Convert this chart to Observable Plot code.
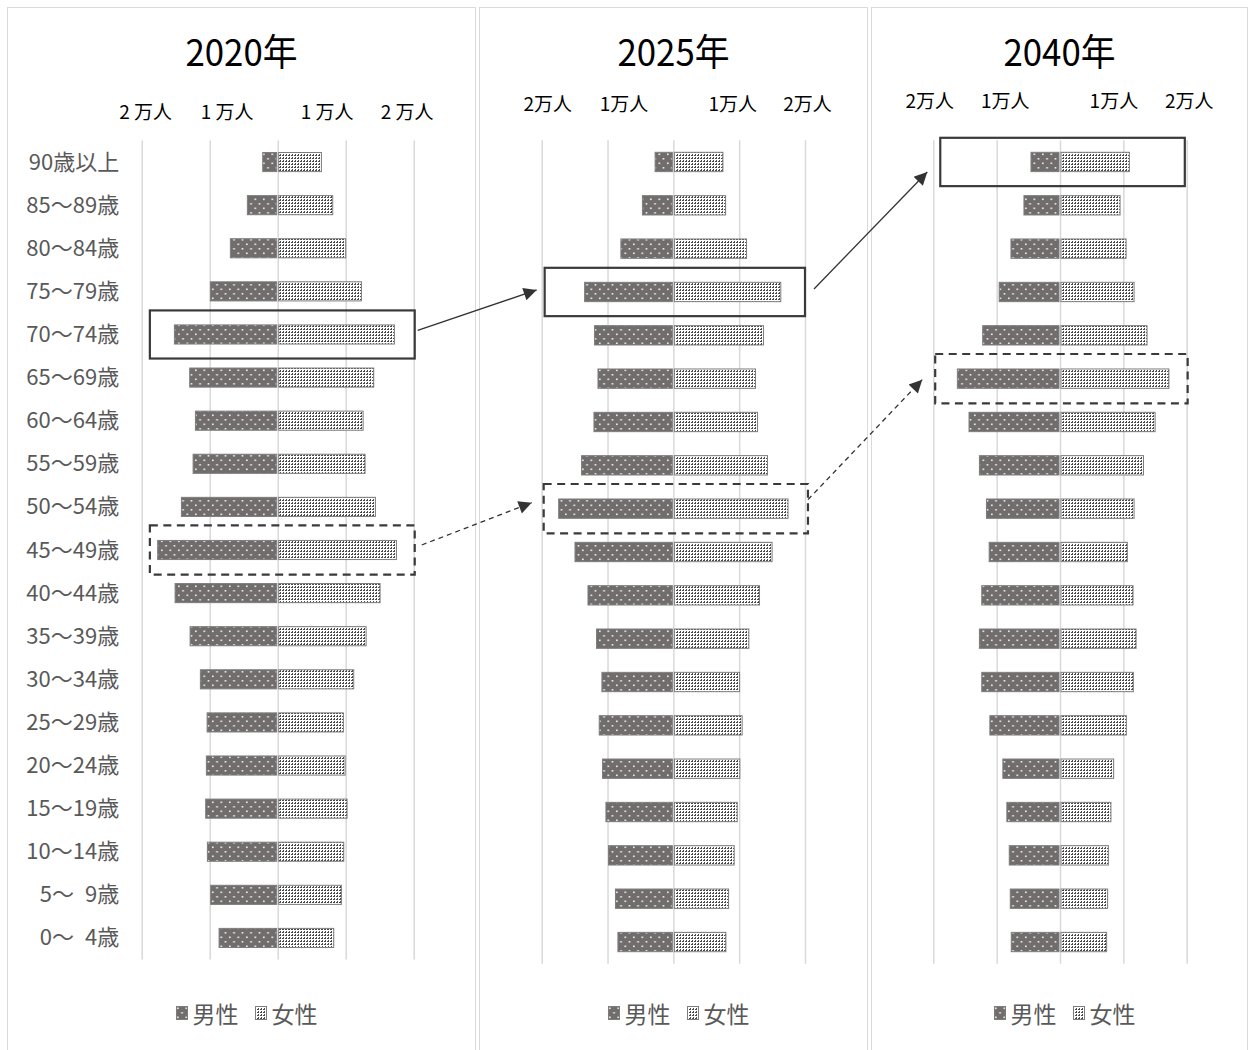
<!DOCTYPE html>
<html><head><meta charset="utf-8">
<script src="https://cdn.jsdelivr.net/npm/d3@7"></script>
<script src="https://cdn.jsdelivr.net/npm/@observablehq/plot@0.6"></script>
<style>
body{margin:0;background:#fff}
#root{position:relative;width:1250px;height:1050px;overflow:hidden;background:#fff}
.frame{position:absolute;top:7px;height:1080px;border:1.5px solid #dadada;box-sizing:border-box}
.title{position:absolute;top:32px;text-align:center;font-size:37px;line-height:1;color:#000;transform:scaleX(0.94)}
.legend{position:absolute;top:1001px;display:flex;justify-content:center;align-items:center;font-size:23px;line-height:24px;color:#595959}
.legend svg{margin-right:5px}
.legend .item{display:flex;align-items:center;margin:0 8px}
.plotbox{position:absolute}
.plotbox svg{max-width:none !important;overflow:visible}
svg text{white-space:pre}
</style></head><body><div id="root"></div>
<script>
const FONT = '"Liberation Sans Narrow","Arial Narrow","Noto Sans CJK JP",sans-serif';

// ---- data ----
const ages = ["90歳以上","85～89歳","80～84歳","75～79歳","70～74歳","65～69歳","60～64歳","55～59歳","50～54歳","45～49歳","40～44歳","35～39歳","30～34歳","25～29歳","20～24歳","15～19歳","10～14歳","5～\u20029歳","0～\u20024歳"];
const years = ["2020年","2025年","2040年"];
const male2020   = [2200,4460,6960,9900,15190,12940,12100,12440,14160,17650,15090,12880,11370,10380,10490,10590,10340,9850,8620];
const female2020 = [6430,8090,10000,12310,17160,14120,12560,12850,14370,17460,15060,13000,11180,9660,9910,10200,9710,9370,8240];
const male2025   = [2770,4700,7970,13480,11970,11450,12060,13940,17420,14940,12970,11670,10850,11260,10760,10240,9850,8790,8420];
const female2025 = [7530,7940,11120,16320,13700,12480,12790,14300,17420,15000,13090,11470,10060,10450,10100,9700,9240,8390,7980];
const male2040   = [4580,5690,7740,9600,12200,16200,14360,12720,11610,11180,12350,12720,12350,11070,9020,8390,8010,7850,7690];
const female2040 = [10950,9480,10430,11690,13740,17190,15010,13180,11690,10630,11530,12010,11580,10470,8470,8040,7630,7520,7360];
const tickValues = [-20000,-10000,10000,20000];
const tickLabels2020 = ["2 万人","1 万人","1 万人","2 万人"];
const tickLabelsOther = ["2万人","1万人","1万人","2万人"];
const gridValues = [-20000,-10000,0,10000,20000];
const legendLabels = ["男性","女性"];
// highlight boxes (x1/x2 in persons)
const boxes = [
  {year:"2020年", age:"70～74歳", x1:-18800, x2:20150, dashed:false},
  {year:"2020年", age:"45～49歳", x1:-18800, x2:20150, dashed:true},
  {year:"2025年", age:"75～79歳", x1:-19550, x2:20000, dashed:false},
  {year:"2025年", age:"50～54歳", x1:-19700, x2:20450, dashed:true},
  {year:"2040年", age:"90歳以上", x1:-18900, x2:19700, dashed:false},
  {year:"2040年", age:"65～69歳", x1:-19700, x2:20150, dashed:true}
];
// arrows: from box index -> to box index
const arrows = [[0,2],[1,3],[2,4],[3,5]];

// ---- styling / layout ----
const T = 80;
const layout = [
  {left:7,   width:469, mL:134.7, mR:62.3, mT:60.5, mB:15.5, labelDy:-28.5, labelDx:[3.5,17,-19,-7]},
  {left:479, width:389, mL:62.7,  mR:63,   mT:60.3, mB:11.3, labelDy:-35.5, labelDx:[5.5,16,-7,2]},
  {left:871, width:377, mL:62.3,  mR:61.3, mT:60.3, mB:11.3, labelDy:-38.5, labelDx:[-4,8,-10,2]}
];
const arrowNudge = [[3,-4,-8,-2],[7,-5,-12,-6],[9,-3,-13,10],[0,-9,-13,1]];
const series = [[male2020,female2020],[male2025,female2025],[male2040,female2040]];

const root = document.getElementById("root");
root.style.fontFamily = FONT;

// pattern defs
const defs = document.createElementNS("http://www.w3.org/2000/svg","svg");
defs.setAttribute("width",0); defs.setAttribute("height",0);
defs.style.position="absolute";
defs.innerHTML = `<defs>
<pattern id="pm" patternUnits="userSpaceOnUse" width="8.5" height="9">
  <rect width="8.5" height="9" fill="#716d6d"/>
  <rect x="1" y="1.5" width="1.6" height="1.6" fill="#f2f2f2"/>
  <rect x="5.25" y="6" width="1.6" height="1.6" fill="#f2f2f2"/>
</pattern>
<pattern id="pf" patternUnits="userSpaceOnUse" width="3" height="3">
  <rect width="3" height="3" fill="#ffffff"/>
  <rect x="0" y="0" width="1" height="1" fill="#4a4a4a"/>
  <rect x="0" y="2" width="1" height="1" fill="#4a4a4a"/>
  <rect x="2" y="0" width="1" height="1" fill="#4a4a4a"/>
</pattern>
<marker id="ah" viewBox="0 0 10 10" refX="10" refY="5" markerWidth="17" markerHeight="13" markerUnits="userSpaceOnUse" orient="auto">
  <path d="M0,0L10,5L0,10z" fill="#333"/>
</marker>
</defs>`;
root.appendChild(defs);

const plots = [];
years.forEach((yr, p) => {
  const L = layout[p];
  const fr = document.createElement("div");
  fr.className = "frame"; fr.style.left = L.left + "px"; fr.style.width = L.width + "px";
  root.appendChild(fr);

  const title = document.createElement("div");
  title.className = "title"; title.style.left = L.left + "px"; title.style.width = L.width + "px";
  title.textContent = yr;
  root.appendChild(title);

  const rows = ages.map((a, i) => ({age: a, male: series[p][0][i], female: series[p][1][i]}));
  const labels = p === 0 ? tickLabels2020 : tickLabelsOther;
  const myBoxes = boxes.filter(b => b.year === yr);

  const marks = [
    Plot.ruleX(gridValues, {stroke: "#d9d9d9", strokeWidth: 1.5}),
    Plot.barX(rows, {y: "age", x1: 0, x2: d => -d.male, fill: "url(#pm)", stroke: "#7d7d7d", strokeWidth: 1, insetTop: 12, insetBottom: 12, insetRight: 1}),
    Plot.barX(rows, {y: "age", x1: 0, x2: "female", fill: "url(#pf)", stroke: "#7d7d7d", strokeWidth: 1, insetTop: 12, insetBottom: 12, insetLeft: 1}),
    Plot.barX(myBoxes.filter(b => !b.dashed), {y: "age", x1: "x1", x2: "x2", fill: "none", stroke: "#3a3a3a", strokeWidth: 2.2, insetTop: -2.5, insetBottom: -2.5}),
    Plot.barX(myBoxes.filter(b => b.dashed), {y: "age", x1: "x1", x2: "x2", fill: "none", stroke: "#3a3a3a", strokeWidth: 2.2, strokeDasharray: "8,5.5", insetTop: -3, insetBottom: -3})
  ];
  tickValues.forEach((t, i) => {
    marks.push(Plot.text([t], {x: d => d, text: () => labels[i], frameAnchor: "top", lineAnchor: "middle", dy: L.labelDy, dx: L.labelDx[i], fontSize: 19, fill: "#000"}));
  });
  if (p === 0) marks.push(Plot.axisY({tickSize: 0, tickPadding: 23, fontSize: 22, label: null}));

  const plot = Plot.plot({
    width: L.width, height: 895,
    marginLeft: L.mL, marginRight: L.mR, marginTop: L.mT, marginBottom: L.mB,
    x: {domain: [-20000, 20000], axis: null},
    y: p === 0 ? {type: "band", domain: ages, padding: 0, round: false, label: null}
               : {type: "band", domain: ages, padding: 0, round: false, axis: null},
    style: {fontFamily: FONT, color: "#595959", background: "transparent", overflow: "visible"},
    marks
  });
  const box = document.createElement("div");
  box.className = "plotbox"; box.style.left = L.left + "px"; box.style.top = T + "px";
  box.appendChild(plot);
  root.appendChild(box);
  plots.push(plot);

  // legend
  const lg = document.createElement("div");
  lg.className = "legend"; lg.style.left = (L.left + 5) + "px"; lg.style.width = L.width + "px";
  legendLabels.forEach((lab, k) => {
    const it = document.createElement("div"); it.className = "item";
    it.innerHTML = `<svg width="12" height="14"><rect x="0.5" y="0.5" width="11" height="13" fill="url(#${k === 0 ? "pm" : "pf"})" stroke="#7d7d7d" stroke-width="1"/></svg><span>${lab}</span>`;
    lg.appendChild(it);
  });
  root.appendChild(lg);
});

// arrows overlay, positioned through each panel's scales
const ov = d3.select(root).append("svg").attr("width", 1250).attr("height", 1050)
  .style("position", "absolute").style("left", 0).style("top", 0).style("pointer-events", "none");
function boxGeom(b) {
  const p = years.indexOf(b.year), L = layout[p];
  const xs = plots[p].scale("x"), ys = plots[p].scale("y");
  return {left: L.left + xs.apply(b.x1), right: L.left + xs.apply(b.x2), cy: T + ys.apply(b.age) + ys.bandwidth / 2};
}
arrows.forEach(([a, b], i) => {
  const A = boxGeom(boxes[a]), B = boxGeom(boxes[b]);
  const n = arrowNudge[i];
  ov.append("line")
    .attr("x1", A.right + n[0]).attr("y1", A.cy + n[1])
    .attr("x2", B.left + n[2]).attr("y2", B.cy + n[3])
    .attr("stroke", "#333").attr("stroke-width", 1.3)
    .attr("stroke-dasharray", boxes[a].dashed ? "5,4" : null)
    .attr("marker-end", "url(#ah)");
});
</script></body></html>
